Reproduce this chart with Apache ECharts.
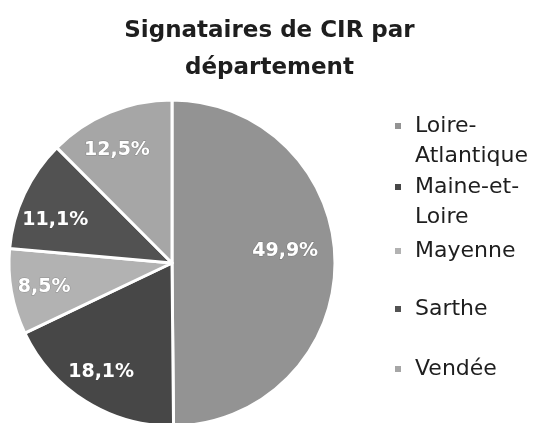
<!DOCTYPE html>
<html>
<head>
<meta charset="utf-8">
<script src="https://cdn.jsdelivr.net/npm/echarts@6/dist/echarts.min.js"></script>
<style>
  html, body { margin: 0; padding: 0; background: #fff; }
  #cir { width: 539px; height: 423px; }
</style>
</head>
<body>
<div id="cir"></div>
<script>
var departements = ['Loire-Atlantique', 'Maine-et-Loire', 'Mayenne', 'Sarthe', 'Vendée'];
var parts = [49.9, 18.1, 8.5, 11.1, 12.5];
var couleurs = ['#939393', '#474747', '#b2b2b2', '#525252', '#a6a6a6'];
// libellés de la légende coupés comme dans l'original
// (ligne vide en tête pour garder l'icône sur la première ligne)
var libelles = {
    'Loire-Atlantique': '\nLoire-\nAtlantique',
    'Maine-et-Loire': '\nMaine-et-\nLoire'
};
// placement des étiquettes : fraction du rayon, décalage angulaire (degrés)
var distEtiquette = [0.68, 0.78, 0.78, 0.745, 0.755];
var decalAngle = [-6, 1, -0.5, -5, -3.5];

var R = 163;
var total = parts.reduce(function (a, b) { return a + b; }, 0);

function angleMilieu(i) {
    var cum = 0;
    for (var j = 0; j < i; j++) cum += parts[j];
    return (cum + parts[i] / 2) / total * 2 * Math.PI;
}

var cir = echarts.init(document.getElementById('cir'), null, {renderer: 'canvas'});

// une légende par entrée
var legendTops = [76, 137, 231, 289, 349];
var legends = departements.map(function (d, i) {
    return {
        orient: 'vertical',
        left: 388,
        top: legendTops[i],
        data: [d],
        icon: 'rect',
        itemWidth: 8,
        itemHeight: 8,
        itemGap: 0,
        formatter: function (n) { return libelles[n] || n; },
        textStyle: {
            fontFamily: 'DejaVu Sans',
            fontSize: 22,
            color: '#1e1e1e',
            lineHeight: 30,
            padding: [0, 0, 0, 8]
        }
    };
});

var option = {
    animation: false,
    backgroundColor: '#fff',
    color: couleurs,
    title: {
        text: 'Signataires de CIR par\ndépartement',
        left: 'center',
        top: 8,
        textStyle: {
            fontFamily: 'DejaVu Sans',
            fontWeight: 'bold',
            fontSize: 23,
            lineHeight: 37,
            color: '#1e1e1e'
        }
    },
    legend: legends,
    series: [
        {
            name: 'CIR',
            type: 'pie',
            center: [172, 263],
            radius: [0, R],
            startAngle: 90,
            clockwise: true,
            itemStyle: {
                borderColor: '#fff',
                borderWidth: 3
            },
            label: {
                position: 'inside',
                formatter: function (p) {
                    return p.value.toFixed(1).replace('.', ',') + '%';
                },
                fontFamily: 'DejaVu Sans',
                fontWeight: 'bold',
                fontSize: 19,
                color: '#fff',
                textBorderColor: 'rgba(80,80,80,0.35)',
                textBorderWidth: 1
            },
            labelLine: { show: false },
            labelLayout: function (p) {
                var i = p.dataIndex;
                var a0 = angleMilieu(i);
                var a = a0 + decalAngle[i] * Math.PI / 180;
                var d = distEtiquette[i] * R;
                var h = 0.5 * R;
                return {
                    dx: Math.sin(a) * d - Math.sin(a0) * h,
                    dy: -Math.cos(a) * d + Math.cos(a0) * h
                };
            },
            emphasis: { disabled: true },
            data: departements.map(function (d, i) {
                return { name: d, value: parts[i] };
            })
        }
    ]
};

cir.setOption(option);
</script>
</body>
</html>
